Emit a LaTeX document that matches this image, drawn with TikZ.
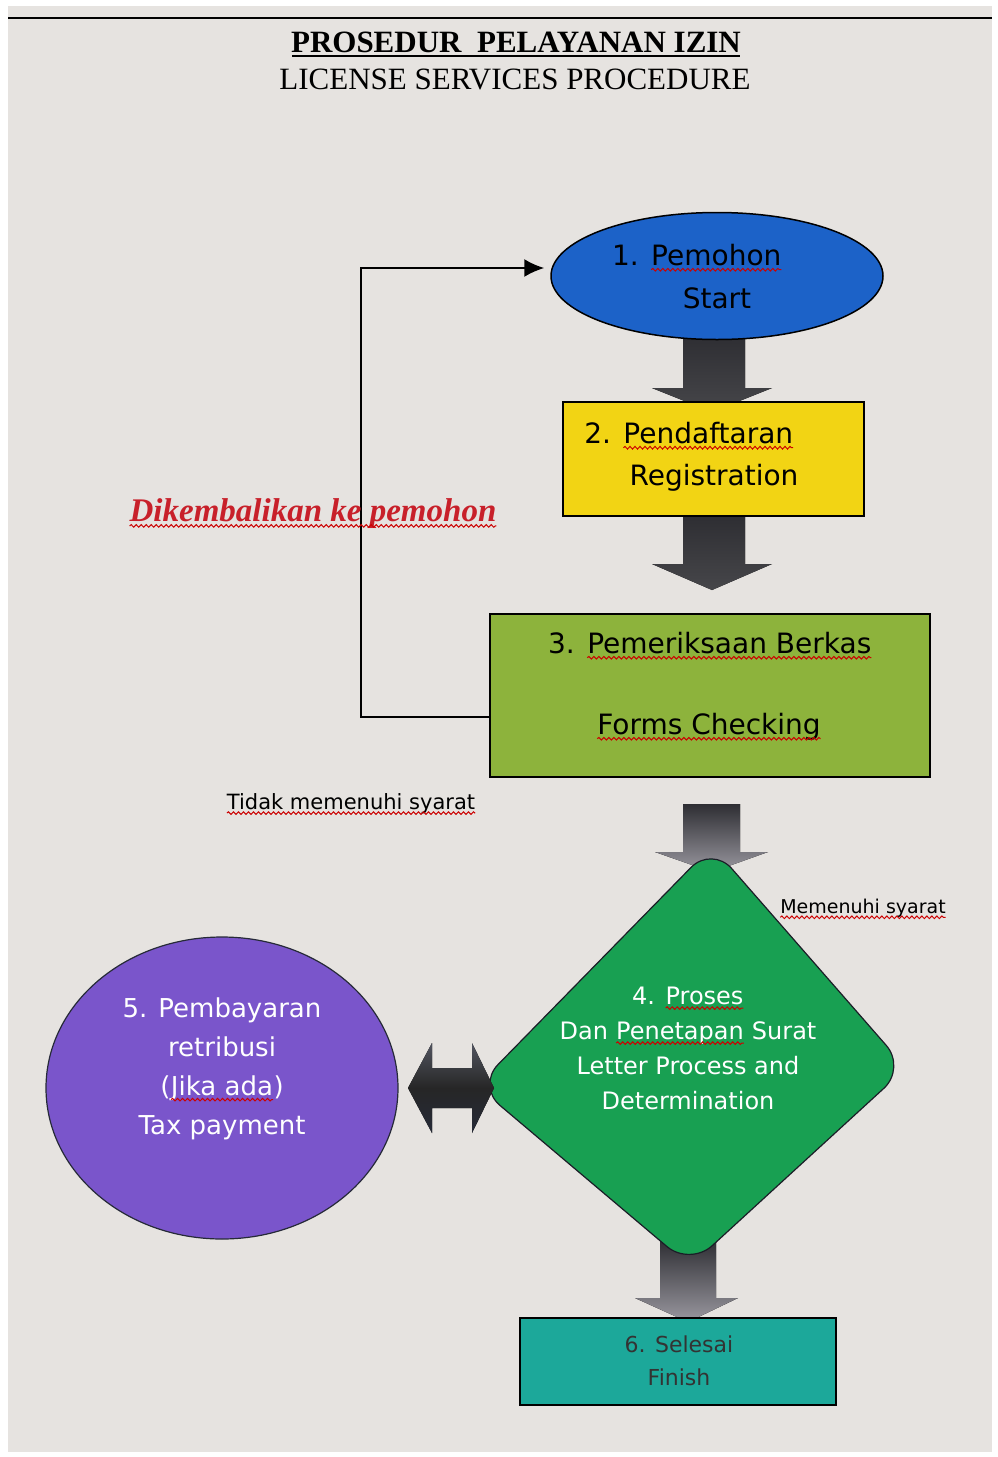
\documentclass[tikz,border=0pt]{standalone}
\usepackage{fontspec}
\setmainfont{Liberation Serif}
\newfontfamily\boxfont{DejaVu Sans}
\usetikzlibrary{shapes.geometric,arrows.meta,calc,decorations.pathmorphing}
\definecolor{screenbg}{HTML}{E6E3E0}
\definecolor{startblue}{HTML}{1C62C8}
\definecolor{regyellow}{HTML}{F2D414}
\definecolor{checkgreen}{HTML}{8DB33C}
\definecolor{procgreen}{HTML}{18A052}
\definecolor{paypurple}{HTML}{7A55CB}
\definecolor{finteal}{HTML}{1CA89A}
\definecolor{arrowdark}{HTML}{2E2E33}
\definecolor{arrowlight}{HTML}{9A98A0}
\definecolor{labelred}{HTML}{C8202A}
\definecolor{navyarrow}{HTML}{262A38}
\tikzset{
  shape box/.style={draw=black, line width=1.5pt, inner sep=0pt},
  boxtext/.style={inner sep=0pt, anchor=center, font=\boxfont\fontsize{28}{33}\selectfont},
  blockarrow/.style={top color=arrowdark, bottom color=arrowlight, draw=none},
  blockarrowdark/.style={top color=arrowdark, bottom color=arrowdark!70!gray, draw=none},
  wavy/.style={draw=red!80!black, line width=1pt, decorate, decoration={snake, amplitude=1.3pt, segment length=5pt}},
  lbl/.style={inner sep=0pt, anchor=center},
}
\newcommand\redwave[1]{\tikz[baseline=(wvw.base)]{\node[inner sep=0pt, outer sep=0pt] (wvw) {#1};\draw[wavy] ([yshift=-4pt]wvw.base west) -- ([yshift=-4pt]wvw.base east);}}
\begin{document}
\begin{tikzpicture}[x=1pt,y=-1pt]
\useasboundingbox (0,0) rectangle (998,1457);
\fill[white] (0,0) rectangle (998,1457);
\fill[screenbg] (8,6) rectangle (992,1452);
\draw[black, line width=2pt] (8,18) -- (992,18);

% title
\node[lbl, font=\bfseries\fontsize{31}{36}\selectfont] (title) at (516,42) {PROSEDUR\ \ PELAYANAN IZIN};
\draw[line width=1.5pt] (292,56) -- (740,56);
\node[lbl, font=\fontsize{31}{36}\selectfont] (subtitle) at (515,79) {LICENSE SERVICES PROCEDURE};

% block arrows (drawn under the shapes)
\fill[blockarrowdark] (683,336) -- (745,336) -- (745,388) -- (772,388) -- (712,412) -- (652,388) -- (683,388) -- cycle;
\fill[blockarrowdark] (683,516) -- (745,516) -- (745,564) -- (772,564) -- (712,590) -- (652,564) -- (683,564) -- cycle;
\fill[blockarrow] (683,804) -- (740,804) -- (740,852) -- (768,852) -- (712,872) -- (655,852) -- (683,852) -- cycle;
\fill[blockarrow] (660,1240) -- (716,1240) -- (716,1298) -- (738,1298) -- (688,1322) -- (635,1298) -- (660,1298) -- cycle;

% nodes
\node[shape box, ellipse, fill=startblue, minimum width=332pt, minimum height=127pt] (n1) at (717,276) {};
\node[boxtext] (n1a) at (697,258) {1. \redwave{Pemohon}};
\node[boxtext] (n1b) at (717,298) {Start};

\node[shape box, rectangle, fill=regyellow, minimum width=301pt, minimum height=114pt] (n2) at (713.5,459) {};
\node[boxtext] (n2a) at (689,436) {2. \redwave{Pendaftaran}};
\node[boxtext] (n2b) at (714,478) {Registration};

\node[shape box, rectangle, fill=checkgreen, minimum width=440pt, minimum height=163pt] (n3) at (710,695.5) {};
\node[boxtext] (n3a) at (710,646) {3. \redwave{Pemeriksaan Berkas}};
\node[boxtext] (n3b) at (709,727) {\redwave{Forms Checking}};

\draw[draw=navyarrow!70!black, fill=procgreen, line width=1.2pt, rounded corners=30pt] (712,846) -- (906,1068) -- (690,1266) -- (477,1086) -- cycle;
\coordinate (n4) at (692,1060);
\node[lbl, text=white, font=\boxfont\fontsize{24}{29}\selectfont, align=center] (n4t) at (688,1048) {4. \redwave{Proses}\\[6pt]Dan \redwave{Penetapan} Surat\\[6pt]Letter Process and\\[6pt]Determination};

\node[shape box, ellipse, fill=paypurple, minimum width=352pt, minimum height=302pt, line width=1.2pt, draw=navyarrow] (n5) at (222,1088) {};
\node[lbl, text=white, font=\boxfont\fontsize{26}{31}\selectfont, align=center] (n5t) at (222,1069) {5. Pembayaran\\[8pt]retribusi\\[8pt](\redwave{Jika ada})\\[8pt]Tax payment};

\node[shape box, rectangle, fill=finteal, minimum width=316pt, minimum height=87pt, line width=1.3pt] (n6) at (678,1361.5) {};
\node[lbl, text=black!80, font=\boxfont\fontsize{22}{26}\selectfont, align=center] (n6t) at (679,1361) {6. Selesai\\[7pt]Finish};

% double block arrow between n5 and n4
\fill[top color=navyarrow!80, bottom color=navyarrow, middle color=black!85] (408,1088) -- (432,1043) -- (432,1068) -- (472,1068) -- (472,1043) -- (494,1088) -- (472,1133) -- (472,1108) -- (432,1108) -- (432,1133) -- cycle;

% feedback connector
\draw[black, line width=2pt, -{Latex[length=20pt,width=18pt]}] ([yshift=-21pt]n3.west) -- ++(-128,0) |- ([yshift=8pt,xshift=-6pt]n1.west);

% labels
\node[lbl, text=labelred, font=\bfseries\itshape\fontsize{33}{38}\selectfont] (back) at (313,514) {\redwave{Dikembalikan ke pemohon}};
\node[lbl, font=\boxfont\fontsize{21}{25}\selectfont] (notok) at (351,804) {\redwave{Tidak memenuhi syarat}};
\node[lbl, font=\boxfont\fontsize{19}{22}\selectfont] (ok) at (863,909) {\redwave{Memenuhi syarat}};
\end{tikzpicture}
\end{document}
